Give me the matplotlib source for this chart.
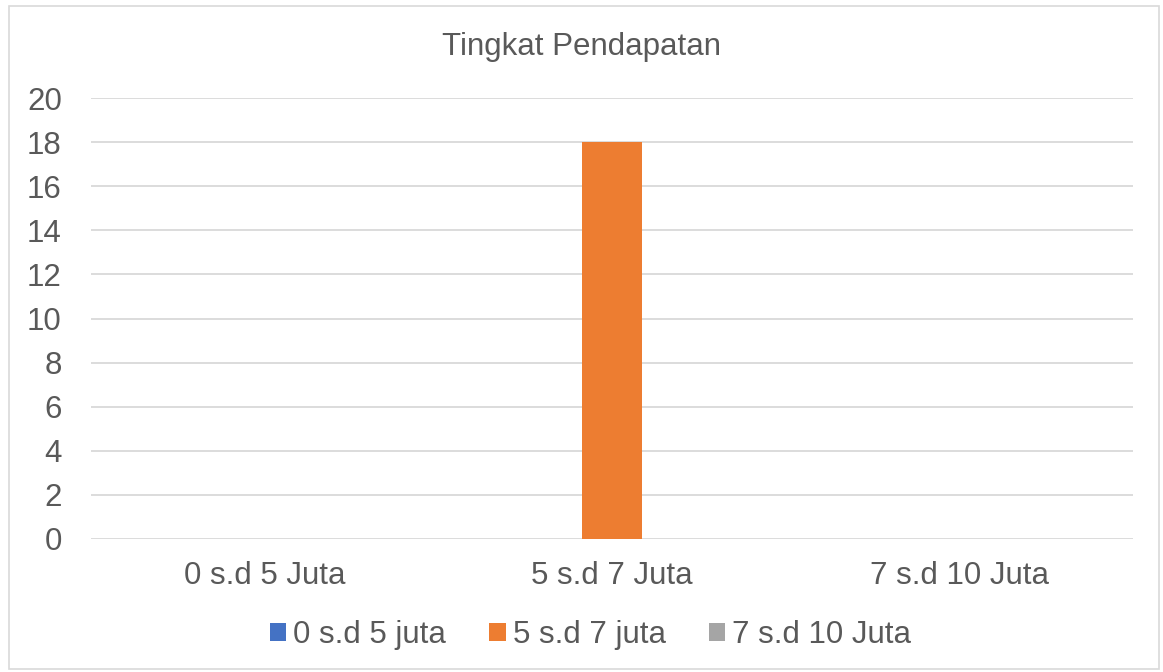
import numpy as np
import matplotlib.pyplot as plt
from matplotlib.patches import Rectangle

categories = ["0 s.d 5 Juta", "5 s.d 7 Juta", "7 s.d 10 Juta"]
series_names = ["0 s.d 5 juta", "5 s.d 7 juta", "7 s.d 10 Juta"]
series_0_5 = [0, 0, 0]
series_5_7 = [0, 18, 0]
series_7_10 = [0, 0, 0]
colors = ["#4472C4", "#ED7D31", "#A5A5A5"]

plt.rcParams["font.family"] = ["Liberation Sans", "DejaVu Sans"]
text_color = "#595959"
fs = 22.5

fig = plt.figure(figsize=(11.63, 6.72), dpi=100)
ax = fig.add_axes([91 / 1163, 1 - 539 / 672, (1133 - 91) / 1163, (539 - 98) / 672])

x = np.arange(len(categories))
width = 0.173
handles = []
for i, (name, vals) in enumerate(zip(series_names, [series_0_5, series_5_7, series_7_10])):
    h = ax.bar(x + (i - 1) * width, vals, width, color=colors[i], label=name, zorder=3)
    handles.append(h)

ax.set_xlim(-0.5, 2.5)
ax.set_ylim(0, 20)
ax.set_yticks(range(0, 21, 2))
ax.set_xticks(x)
ax.set_xticklabels(categories)
ax.grid(axis="y", color="#D9D9D9", linewidth=1.3, zorder=0)
for s in ax.spines.values():
    s.set_visible(False)
ax.tick_params(axis="both", length=0, labelsize=fs, labelcolor=text_color)
ax.tick_params(axis="y", pad=21)
ax.tick_params(axis="x", pad=16)

fig.text(0.5, 1 - 47 / 672, "Tingkat Pendapatan", ha="center", va="center",
         fontsize=fs, color=text_color)

fig.legend(handles=handles, labels=series_names, loc="center",
           bbox_to_anchor=(0.5 + 9 / 1163, 1 - 635 / 672), ncol=3, frameon=False,
           fontsize=fs, labelcolor=text_color, handlelength=0.54, handleheight=0.54,
           handletextpad=0.22, columnspacing=1.37)

fig.patches.append(Rectangle((9 / 1163, 3 / 672), 1150 / 1163, 663 / 672,
                             transform=fig.transFigure, fill=False,
                             edgecolor="#D9D9D9", linewidth=1.2))

fig.savefig("out.png", dpi=100)
